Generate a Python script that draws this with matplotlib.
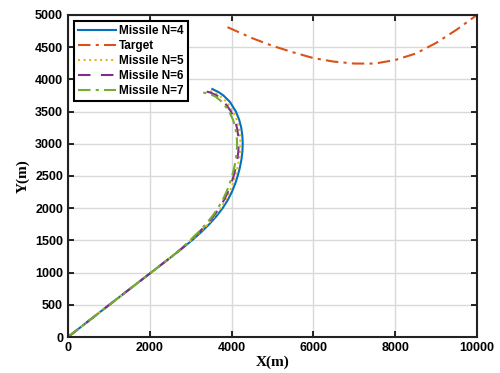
import matplotlib.pyplot as plt

# trajectories (x, y in metres)
m4_x = [0, 1010, 2030, 2540, 2800, 3030, 3251, 3452, 3629, 3780, 3905, 4005, 4085, 4149, 4200, 4239, 4264,
        4272, 4263, 4235, 4184, 4105, 3959, 3799, 3684, 3529]
m4_y = [0, 500, 1000, 1250, 1380, 1500, 1625, 1750, 1875, 2000, 2125, 2250, 2375, 2500, 2625, 2750, 2875,
        3000, 3125, 3250, 3375, 3500, 3650, 3750, 3800, 3850]

tgt_x = [3900, 4500, 5000, 5500, 6000, 6500, 7000, 7500, 8000, 8500, 9000, 9500, 10000]
tgt_y = [4810, 4640, 4520, 4420, 4330, 4275, 4245, 4245, 4300, 4400, 4565, 4770, 5000]

m5_x = [0, 1010, 2030, 2540, 2795, 3010, 3223, 3417, 3587, 3732, 3853, 3950, 4029, 4092, 4143, 4182, 4207,
        4215, 4205, 4175, 4121, 4037, 3879, 3699, 3570, 3420]
m5_y = [0, 500, 1000, 1250, 1380, 1500, 1625, 1750, 1875, 2000, 2125, 2250, 2375, 2500, 2625, 2750, 2875,
        3000, 3125, 3250, 3375, 3500, 3650, 3750, 3800, 3835]

m6_x = [0, 1010, 2030, 2540, 2791, 2995, 3202, 3391, 3556, 3696, 3814, 3909, 3987, 4049, 4100, 4139, 4164,
        4172, 4162, 4130, 4074, 3986, 3819, 3650, 3480, 3300]
m6_y = [0, 500, 1000, 1250, 1380, 1500, 1625, 1750, 1875, 2000, 2125, 2250, 2375, 2500, 2625, 2750, 2875,
        3000, 3125, 3250, 3375, 3500, 3650, 3745, 3795, 3825]

m7_x = [0, 1010, 2030, 2540, 2788, 2982, 3184, 3368, 3528, 3665, 3780, 3873, 3951, 4012, 4063, 4102, 4127,
        4135, 4124, 4091, 4033, 3942, 3767, 3600, 3430, 3260]
m7_y = [0, 500, 1000, 1250, 1380, 1500, 1625, 1750, 1875, 2000, 2125, 2250, 2375, 2500, 2625, 2750, 2875,
        3000, 3125, 3250, 3375, 3500, 3650, 3735, 3780, 3800]

plt.rcParams['font.family'] = ['Liberation Sans', 'DejaVu Sans']

fig = plt.figure(figsize=(5, 3.73), dpi=100)
ax = fig.add_axes([0.136, 0.0965, 0.818, 0.8635])

ax.plot(m4_x, m4_y, color='#0072BD', lw=1.5, ls='-', label='Missile N=4')
ax.plot(tgt_x, tgt_y, color='#D95319', lw=1.5, ls=(0, (6, 2.5, 1.5, 2.5)), label='Target')
ax.plot(m5_x, m5_y, color='#EDB120', lw=1.5, ls=':', label='Missile N=5')
ax.plot(m6_x, m6_y, color='#7E2F8E', lw=1.5, ls=(0, (6, 5)), label='Missile N=6')
ax.plot(m7_x, m7_y, color='#77AC30', lw=1.5, ls=(0, (6, 2.5, 1.5, 2.5)), label='Missile N=7')

ax.set_xlim(0, 10000)
ax.set_ylim(0, 5000)
ax.set_xticks(range(0, 10001, 2000))
ax.set_yticks(range(0, 5001, 500))
ax.grid(True, color='#d9d9d9', lw=1)
ax.set_axisbelow(True)
ax.tick_params(direction='in', top=True, right=True, length=4, width=1.2, labelsize=9)
for lab in ax.get_xticklabels() + ax.get_yticklabels():
    lab.set_fontweight('bold')
for sp in ax.spines.values():
    sp.set_linewidth(1.5)
    sp.set_color('#222222')

ax.set_xlabel('X(m)', family='Liberation Serif', fontweight='bold', fontsize=11, labelpad=1)
ax.set_ylabel('Y(m)', family='Liberation Serif', fontweight='bold', fontsize=11, labelpad=4)

leg = ax.legend(loc='upper left', prop={'weight': 'bold', 'size': 8.5}, fancybox=False,
                edgecolor='black', framealpha=1, handlelength=3.2, borderpad=0.35,
                labelspacing=0.25, handletextpad=0.3, borderaxespad=0.5)
leg.get_frame().set_linewidth(1.5)

fig.savefig('out.png', dpi=100)
